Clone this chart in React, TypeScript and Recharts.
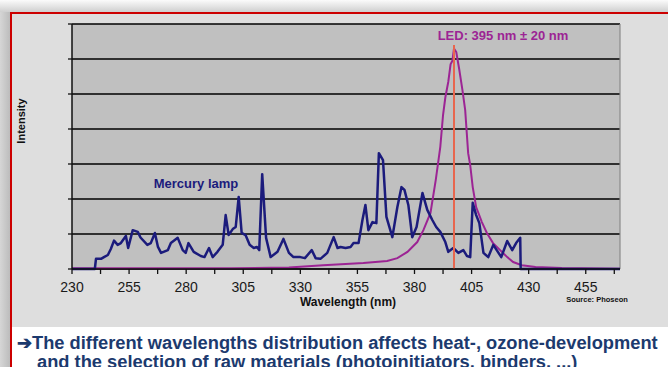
import { LineChart, Line, XAxis, YAxis, CartesianGrid, ReferenceLine } from "recharts";

// wavelength (nm), relative intensity (grid units)
const mercurySpectrum: [number, number][] = [
  [230, 0], [240, 0], [240.5, 0.29], [242.7, 0.29], [244, 0.34], [245.7, 0.4], [247, 0.57],
  [248.4, 0.81], [250, 0.69], [251.4, 0.74], [253.6, 0.94], [254.6, 0.6], [256.6, 1.11],
  [258.8, 1.06], [260, 0.9], [263, 0.69], [264.5, 0.74], [266.3, 1.03], [267.6, 0.64],
  [269, 0.46], [272, 0.54], [273.3, 0.74], [276.3, 0.89], [278.5, 0.54], [279.8, 0.46],
  [281, 0.74], [283.3, 0.49], [286.4, 0.37], [288, 0.34], [290, 0.6], [291.6, 0.34],
  [293.7, 0.49], [296, 0.69], [297.3, 1.54], [298.6, 0.97], [300.4, 1.14], [301.7, 1.2],
  [303, 2.06], [304.3, 1.03], [306, 0.97], [307.8, 0.69], [309.6, 0.6], [311, 0.63],
  [312, 0.54], [313.3, 2.71], [315, 0.89], [317, 0.34], [320, 0.49], [322.6, 0.86],
  [325, 0.46], [327, 0.34], [330, 0.34], [332, 0.31], [335, 0.54], [336.7, 0.31],
  [338.8, 0.29], [341.8, 0.46], [344.6, 0.91], [346.3, 0.6], [347.6, 0.63], [349.8, 0.6],
  [352, 0.63], [353.3, 0.74], [355.5, 0.74], [357.2, 1.4], [358.5, 1.83], [359.8, 1.11],
  [361.6, 1.34], [363.3, 1.31], [364.4, 3.31], [366.2, 3.11], [367.7, 1.49], [370.3, 0.91],
  [372.5, 1.77], [374.3, 2.34], [375.6, 2.26], [377.3, 1.83], [379, 0.91], [380.9, 1.2],
  [383.5, 2.17], [385.6, 1.69], [387.8, 1.4], [389.5, 1.2], [391.3, 1.06], [393.5, 0.77],
  [394.8, 0.49], [397, 0.6], [399.2, 0.46], [401.4, 0.54], [403, 0.37], [404.4, 0.34],
  [405.5, 1.89], [407, 1.54], [408.4, 1.31], [410.2, 0.46], [412.3, 0.34], [414.5, 0.69],
  [416, 0.54], [418, 0.34], [420.6, 0.8], [422.8, 0.54], [424.5, 0.74], [426.3, 0.89],
  [426.5, 0], [470, 0],
];

const ledSpectrum: [number, number][] = [
  [230, 0.02], [300, 0.02], [325, 0.04], [340, 0.11], [357.6, 0.17], [368, 0.23],
  [372.5, 0.31], [376.9, 0.49], [381.2, 0.77], [383.9, 1.11], [387, 1.6], [389.3, 2.54],
  [391.3, 3.49], [392.5, 4.4], [393.5, 4.9], [394.8, 5.35], [395.8, 5.85], [396.6, 5.95],
  [397.3, 6.3], [398.3, 6.2], [399.6, 5.7], [401, 5.11], [402.2, 4.54], [403.5, 3.31],
  [404.4, 2.97], [405.5, 2.34], [407, 1.77], [409.5, 1.34], [411.7, 1.03], [414.4, 0.74],
  [417.5, 0.54], [420.6, 0.34], [423.2, 0.2], [427, 0.11], [433, 0.06], [444.5, 0.03],
  [470, 0.01],
];

const xTicks = [230, 242.5, 255, 267.5, 280, 292.5, 305, 317.5, 330, 342.5, 355, 367.5,
  380, 392.5, 405, 417.5, 430, 442.5, 455, 467.5];
const xLabels = [230, 255, 280, 305, 330, 355, 380, 405, 430, 455];
const yTicks = [0, 1, 2, 3, 4, 5, 6, 7];
const ledMarker = 397.3;

const mercuryData = mercurySpectrum.map(([nm, v]) => ({ nm, v }));
const ledData = ledSpectrum.map(([nm, v]) => ({ nm, v }));

const NAVY = "#1b1b7c";
const PURPLE = "#9c2494";
const FONT = "'Liberation Sans', Arial, sans-serif";

export default function App() {
  return (
    <div style={{ position: "absolute", left: 0, top: 0, width: 668, height: 367, overflow: "hidden", background: "#dedede", fontFamily: FONT }}>
      {/* slide frame */}
      <div style={{ position: "absolute", left: 0, top: 0, width: 668, height: 12, background: "linear-gradient(#fbfbfb, #cfcfcf)" }} />
      <div style={{ position: "absolute", left: 0, top: 12, width: 10, height: 355, background: "linear-gradient(90deg, #d6d6d6, #bcbcbc)" }} />
      <div style={{ position: "absolute", left: 10, top: 12, width: 658, height: 2, background: "#cc0000" }} />
      <div style={{ position: "absolute", left: 10, top: 12, width: 2, height: 355, background: "#cc0000" }} />
      <div style={{ position: "absolute", left: 12, top: 327, width: 656, height: 40, background: "#ffffff" }} />

      <div style={{ position: "absolute", left: 0, top: 0 }}>
        <LineChart width={668} height={367} margin={{ top: 24, right: 48, bottom: 68, left: 0 }}>
          <CartesianGrid vertical={false} stroke="#000" strokeWidth={1.3} fill="#c0c0c0" fillOpacity={1} />
          <XAxis
            type="number"
            dataKey="nm"
            domain={[230, 470]}
            ticks={xTicks}
            interval={0}
            height={30}
            tickSize={5}
            tickMargin={8}
            tickFormatter={(v: number) => (xLabels.includes(v) ? String(v) : "")}
            tick={{ fill: "#1a1a1a", fontSize: 14, fontFamily: FONT }}
            axisLine={{ stroke: "#111", strokeWidth: 1.3 }}
            tickLine={{ stroke: "#111", strokeWidth: 1.3 }}
          />
          <YAxis
            type="number"
            domain={[0, 7]}
            ticks={yTicks}
            width={72}
            tickSize={4}
            tickFormatter={() => ""}
            axisLine={{ stroke: "#111", strokeWidth: 1.5 }}
            tickLine={{ stroke: "#111", strokeWidth: 1.3 }}
          />
          <ReferenceLine x={470} stroke="#8a8a8a" strokeWidth={1.2} />
          <Line data={ledData} dataKey="v" type="linear" stroke={PURPLE} strokeWidth={2} dot={false} isAnimationActive={false} />
          <Line data={mercuryData} dataKey="v" type="linear" stroke={NAVY} strokeWidth={2.5} strokeLinejoin="round" dot={false} isAnimationActive={false} />
          <ReferenceLine
            segment={[{ x: ledMarker, y: 0 }, { x: ledMarker, y: 6.4 }]}
            stroke="#e8664e"
            strokeWidth={2}
          />
        </LineChart>
      </div>

      <svg width={668} height={367} style={{ position: "absolute", left: 0, top: 0, pointerEvents: "none" }}>
        <text x={503} y={40} textAnchor="middle" fontSize={13} fontWeight="bold" fill={PURPLE} fontFamily={FONT}>
          LED: 395 nm ± 20 nm
        </text>
        <text x={196} y={188} textAnchor="middle" fontSize={13} fontWeight="bold" fill={NAVY} fontFamily={FONT}>
          Mercury lamp
        </text>
        <text x={25} y={121} transform="rotate(-90 25 121)" textAnchor="middle" fontSize={11} fontWeight="bold" fill="#111" fontFamily={FONT}>
          Intensity
        </text>
        <text x={348} y={306} textAnchor="middle" fontSize={12} fontWeight="bold" fill="#111" fontFamily={FONT}>
          Wavelength (nm)
        </text>
        <text x={597} y={302} textAnchor="middle" fontSize={7.5} fontWeight="bold" fill="#111" fontFamily={FONT}>
          Source: Phoseon
        </text>
        <text x={17} y={349} fontSize={18.3} fontWeight="bold" fill="#1c3a6e" fontFamily={FONT}>
          ➔The different wavelengths distribution affects heat-, ozone-development
        </text>
        <text x={37} y={368} fontSize={18.3} fontWeight="bold" fill="#1c3a6e" fontFamily={FONT}>
          and the selection of raw materials (photoinitiators, binders, ...)
        </text>
      </svg>
    </div>
  );
}
